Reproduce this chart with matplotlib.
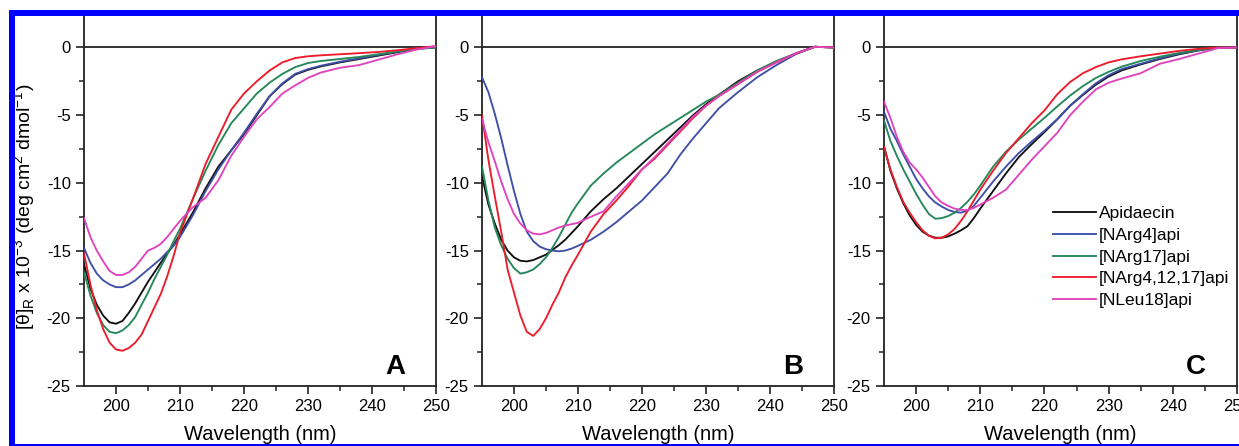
import matplotlib
matplotlib.use("Agg")
import matplotlib.pyplot as plt
from matplotlib.patches import Rectangle

plt.rcParams['font.family'] = ['Liberation Sans', 'DejaVu Sans']
plt.rcParams['axes.unicode_minus'] = False
plt.rcParams['mathtext.fontset'] = 'custom'
plt.rcParams['mathtext.rm'] = 'Liberation Sans'

# ---------------- data ----------------
wavelength = [195, 196, 197, 198, 199, 200, 201, 202, 203, 204, 205, 206, 207, 208, 209, 210,
              212, 214, 216, 218, 220, 222, 224, 226, 228, 230, 232, 235, 238, 241, 244, 247, 250]

series_names = ['Apidaecin', '[NArg4]api', '[NArg17]api', '[NArg4,12,17]api', '[NLeu18]api']
series_colors = ['#111111', '#3f4fa6', '#24875a', '#ec1c2a', '#df44bd']
panel_letters = ['A', 'B', 'C']

# Panel A
a_apidaecin = [-16.0, -17.8, -19.0, -19.8, -20.3, -20.4, -20.2, -19.6, -18.9, -18.1, -17.3, -16.6, -15.9, -15.2, -14.6, -13.8,
               -12.2, -10.4, -8.8, -7.6, -6.4, -5.0, -3.6, -2.7, -2.0, -1.65, -1.4, -1.1, -0.85, -0.6, -0.35, -0.1, 0.0]
a_narg4 = [-14.8, -15.9, -16.7, -17.2, -17.5, -17.7, -17.7, -17.5, -17.2, -16.8, -16.4, -16.0, -15.6, -15.1, -14.65, -14.0,
           -12.4, -10.6, -9.0, -7.6, -6.3, -4.9, -3.6, -2.65, -1.95, -1.6, -1.35, -1.05, -0.8, -0.55, -0.3, -0.05, 0.0]
a_narg17 = [-16.6, -18.3, -19.6, -20.5, -21.0, -21.1, -20.9, -20.5, -19.9, -19.0, -18.1, -17.1, -16.2, -15.3, -14.3, -13.4,
            -11.2, -9.1, -7.2, -5.6, -4.5, -3.4, -2.6, -1.95, -1.45, -1.15, -1.0, -0.85, -0.7, -0.5, -0.3, -0.1, 0.0]
a_narg41217 = [-15.2, -17.5, -19.4, -20.8, -21.8, -22.3, -22.4, -22.2, -21.8, -21.2, -20.2, -19.2, -18.2, -16.9, -15.4, -13.7,
               -11.2, -8.6, -6.6, -4.6, -3.4, -2.5, -1.7, -1.1, -0.78, -0.65, -0.58, -0.5, -0.42, -0.33, -0.2, -0.05, 0.1]
a_nleu18 = [-12.6, -14.0, -15.0, -15.8, -16.5, -16.8, -16.8, -16.6, -16.2, -15.6, -15.0, -14.8, -14.5, -14.0, -13.4, -12.8,
            -11.8, -11.1, -9.8, -8.0, -6.6, -5.3, -4.4, -3.4, -2.8, -2.25, -1.85, -1.5, -1.3, -0.9, -0.5, -0.15, 0.1]

# Panel B
b_apidaecin = [-9.5, -11.6, -13.0, -14.2, -15.0, -15.5, -15.75, -15.8, -15.7, -15.5, -15.3, -14.95, -14.6, -14.2, -13.7, -13.2,
               -12.1, -11.2, -10.4, -9.5, -8.6, -7.7, -6.8, -5.9, -5.0, -4.2, -3.5, -2.5, -1.7, -1.05, -0.45, 0.05, 0.0]
b_narg4 = [-2.2, -3.3, -4.9, -6.7, -8.7, -10.6, -12.3, -13.6, -14.3, -14.7, -14.9, -15.0, -15.05, -15.0, -14.85, -14.65,
           -14.2, -13.6, -12.9, -12.1, -11.3, -10.3, -9.3, -7.9, -6.7, -5.6, -4.5, -3.3, -2.2, -1.3, -0.5, 0.05, 0.0]
b_narg17 = [-8.8, -11.3, -13.3, -14.6, -15.6, -16.3, -16.7, -16.6, -16.4, -16.0, -15.5, -14.8, -14.0, -13.1, -12.2, -11.5,
            -10.2, -9.3, -8.5, -7.8, -7.1, -6.4, -5.8, -5.2, -4.6, -4.0, -3.5, -2.6, -1.7, -1.0, -0.45, 0.05, 0.0]
b_narg41217 = [-5.0, -8.3, -11.0, -13.6, -16.4, -18.1, -19.8, -21.0, -21.3, -20.8, -20.0, -19.0, -18.1, -17.0, -16.1, -15.3,
               -13.6, -12.3, -11.3, -10.2, -9.0, -8.2, -7.2, -6.2, -5.2, -4.3, -3.6, -2.7, -1.8, -1.1, -0.45, 0.05, 0.0]
b_nleu18 = [-5.3, -7.0, -8.4, -9.9, -11.2, -12.3, -13.0, -13.5, -13.75, -13.8, -13.7, -13.5, -13.3, -13.15, -13.05, -12.95,
            -12.5, -12.1, -11.0, -10.0, -9.0, -8.1, -7.1, -6.1, -5.1, -4.3, -3.6, -2.7, -1.8, -1.1, -0.45, 0.05, 0.0]

# Panel C
c_apidaecin = [-7.3, -9.1, -10.4, -11.5, -12.4, -13.1, -13.6, -13.9, -14.05, -14.05, -13.95, -13.75, -13.5, -13.2, -12.6, -11.9,
               -10.6, -9.3, -8.1, -7.15, -6.25, -5.3, -4.3, -3.5, -2.75, -2.15, -1.7, -1.25, -0.85, -0.5, -0.22, 0.0, 0.0]
c_narg4 = [-4.75, -6.0, -6.9, -7.9, -8.8, -9.7, -10.4, -11.0, -11.45, -11.75, -12.0, -12.15, -12.2, -12.05, -11.7, -11.1,
           -9.9, -8.8, -7.8, -6.95, -6.15, -5.3, -4.3, -3.45, -2.65, -2.05, -1.6, -1.2, -0.8, -0.45, -0.2, 0.0, 0.0]
c_narg17 = [-5.4, -6.9, -8.0, -9.0, -9.9, -10.8, -11.6, -12.3, -12.65, -12.6, -12.45, -12.2, -11.85, -11.4, -10.85, -10.2,
            -8.8, -7.7, -6.8, -6.0, -5.2, -4.35, -3.55, -2.85, -2.25, -1.8, -1.42, -1.0, -0.68, -0.4, -0.18, 0.0, 0.0]
c_narg41217 = [-7.35, -9.0, -10.3, -11.4, -12.2, -12.9, -13.5, -13.9, -14.1, -14.05, -13.8, -13.4, -12.8, -12.1, -11.3, -10.5,
               -9.1, -7.8, -6.7, -5.6, -4.65, -3.45, -2.55, -1.9, -1.45, -1.1, -0.88, -0.65, -0.45, -0.25, -0.1, 0.0, 0.0]
c_nleu18 = [-4.0, -5.2, -6.6, -7.7, -8.5, -9.0, -9.6, -10.3, -11.0, -11.45, -11.7, -11.9, -12.0, -12.0, -11.85, -11.6,
            -11.1, -10.5, -9.4, -8.3, -7.3, -6.3, -5.0, -4.0, -3.1, -2.6, -2.3, -1.9, -1.2, -0.85, -0.45, -0.05, 0.0]

panels = [
    [a_apidaecin, a_narg4, a_narg17, a_narg41217, a_nleu18],
    [b_apidaecin, b_narg4, b_narg17, b_narg41217, b_nleu18],
    [c_apidaecin, c_narg4, c_narg17, c_narg41217, c_nleu18],
]

x_ticks = [200, 210, 220, 230, 240, 250]
y_ticks = [0, -5, -10, -15, -20, -25]

# ---------------- figure ----------------
W, H = 1239, 446
fig = plt.figure(figsize=(W / 100, H / 100), dpi=100)

ax_lefts_px = [84, 482, 884]
ax_widths_px = [352, 352, 353]
ax_bottom_px = 386
ax_top_px = 12

axes = []
for i in range(3):
    ax = fig.add_axes([ax_lefts_px[i] / W, 1 - ax_bottom_px / H,
                       ax_widths_px[i] / W, (ax_bottom_px - ax_top_px) / H])
    axes.append(ax)
    ax.axhline(0, color='#222222', lw=1.3, zorder=1)
    for vals, name, col in zip(panels[i], series_names, series_colors):
        ax.plot(wavelength, vals, color=col, lw=1.35, label=name, zorder=3,
                solid_joinstyle='round')
    ax.set_xlim(195, 250)
    ax.set_ylim(-25, 2.62)
    ax.set_xticks(x_ticks)
    ax.set_xticks([205, 215, 225, 235, 245], minor=True)
    ax.set_yticks(y_ticks)
    ax.set_yticks([-2.5, -7.5, -12.5, -17.5, -22.5], minor=True)
    ax.tick_params(which='major', direction='out', length=6, width=1.2, labelsize=12, pad=3.5,
                   color='#222222')
    ax.tick_params(which='minor', direction='out', length=3.5, width=1.1, color='#222222')
    ax.spines['top'].set_visible(False)
    for s in ['left', 'right', 'bottom']:
        ax.spines[s].set_linewidth(1.3)
        ax.spines[s].set_color('#222222')
    ax.set_xlabel('Wavelength (nm)', fontsize=14.5, labelpad=8)
    ax.text(1 - 31 / ax_widths_px[i], 12 / (ax_bottom_px - ax_top_px), panel_letters[i],
            transform=ax.transAxes, ha='right', va='baseline', fontsize=20, fontweight='bold')

axes[0].set_ylabel('[θ]$_\\mathregular{R}$ x 10$^\\mathregular{-3}$ (deg cm$^\\mathregular{2}$ dmol$^\\mathregular{-1}$)',
                   fontsize=14)
axes[0].yaxis.set_label_coords(-0.131, 0.48)

leg = axes[2].legend(loc='upper left', bbox_to_anchor=((1053 - 884) / 353, (386 - 206) / 374),
                     frameon=False, fontsize=12.5, handlelength=2.5, handletextpad=0.15,
                     labelspacing=0.38, borderpad=0, borderaxespad=0)

# blue frame
blue = '#0000ff'
fig.add_artist(Rectangle((9 / W, 0), 5.5 / W, 1 - 10 / H, transform=fig.transFigure,
                         color=blue, lw=0, zorder=20))
fig.add_artist(Rectangle((9 / W, 1 - 15.5 / H), 1 - 9 / W, 5.5 / H, transform=fig.transFigure,
                         color=blue, lw=0, zorder=20))
fig.add_artist(Rectangle((9 / W, 0), 1 - 9 / W, 2 / H, transform=fig.transFigure,
                         color=blue, lw=0, zorder=20))

fig.savefig('out.png', dpi=100)
